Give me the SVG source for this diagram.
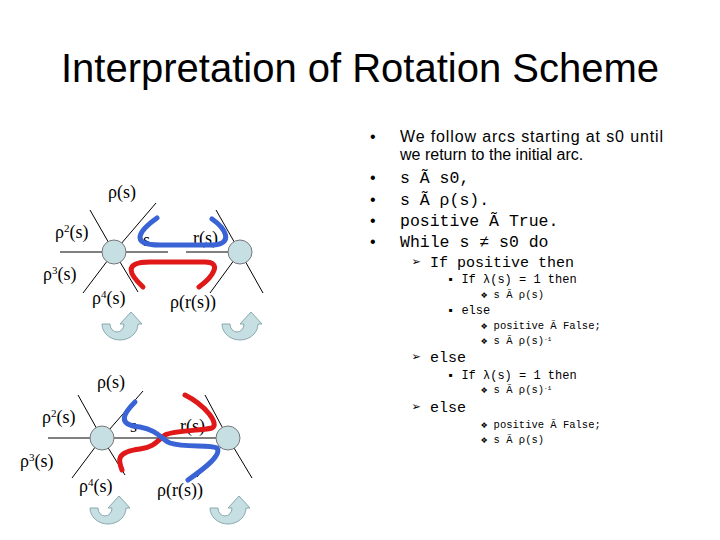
<svg xmlns="http://www.w3.org/2000/svg" width="720" height="540" viewBox="0 0 720 540">
<style>
.ln{stroke:#000;stroke-width:1;fill:none}
.nd{fill:#c5dfe3;stroke:#777;stroke-width:1}
.lb{font-size:18px;fill:#000}
.sup{font-size:11px}
.blue{stroke:#3a63d6;stroke-width:5;fill:none;stroke-linecap:round}
.red{stroke:#e01818;stroke-width:5;fill:none;stroke-linecap:round}
.sans{font-size:16px}
.mono{fill:#000}
</style>
<defs>
<path id="rot" d="M0,12 L8,12 A7,8 0 0 0 22,12 L18,12 L29,0 L40,12 L36,12 A18,16 0 0 1 0,12 Z" fill="#c5dfe3" stroke="#8aa9ae" stroke-width="1"/>
</defs>
<rect width="720" height="540" fill="#fff"/>
<text x="360" y="82" text-anchor="middle" font-family="Liberation Sans, sans-serif" font-size="40">Interpretation of Rotation Scheme</text>

<g id="top-diagram" font-family="Liberation Serif, serif">
<g class="ln">
<line x1="60" y1="252" x2="168" y2="252"/><line x1="186" y1="252" x2="240" y2="252"/>
<line x1="114" y1="252" x2="90" y2="210"/><line x1="114" y1="252" x2="156" y2="203"/>
<line x1="114" y1="252" x2="83" y2="293"/><line x1="114" y1="252" x2="138" y2="292"/>
<line x1="240" y1="252" x2="216" y2="210"/><line x1="240" y1="252" x2="210" y2="293"/><line x1="240" y1="252" x2="263" y2="293"/>
</g>
<circle id="n1" class="nd" cx="114" cy="252" r="12"/>
<circle id="n2" class="nd" cx="240" cy="252" r="12"/>
<text class="lb" x="108" y="198">ρ(s)</text>
<text class="lb" x="55" y="238">ρ<tspan class="sup" dy="-6">2</tspan><tspan dy="6">(s)</tspan></text>
<text class="lb" x="143" y="246">s</text>
<text class="lb" x="193" y="244">r(s)</text>
<text class="lb" x="43" y="280">ρ<tspan class="sup" dy="-6">3</tspan><tspan dy="6">(s)</tspan></text>
<text class="lb" x="92" y="304">ρ<tspan class="sup" dy="-6">4</tspan><tspan dy="6">(s)</tspan></text>
<text class="lb" x="170" y="308">ρ(r(s))</text>
<path class="blue" d="M157,218 C140,230 128,245 160,245 L212,245 C235,244 225,228 212,219"/>
<path class="red" d="M143,287 C130,275 122,262 150,262 L205,262 C222,262 214,276 199,287"/>
<use href="#rot" x="102" y="312"/>
<use href="#rot" x="222" y="312"/>
</g>

<g id="bottom-diagram" font-family="Liberation Serif, serif">
<g class="ln">
<line x1="48" y1="438" x2="228" y2="438"/>
<line x1="102" y1="438" x2="78" y2="395"/><line x1="102" y1="438" x2="143" y2="391"/>
<line x1="102" y1="438" x2="72" y2="478"/><line x1="102" y1="438" x2="125" y2="475"/>
<line x1="228" y1="438" x2="205" y2="395"/><line x1="228" y1="438" x2="197" y2="477"/><line x1="228" y1="438" x2="252" y2="478"/>
</g>
<circle id="n3" class="nd" cx="102" cy="438" r="12"/>
<circle id="n4" class="nd" cx="228" cy="438" r="12"/>
<text class="lb" x="97" y="388">ρ(s)</text>
<text class="lb" x="42" y="423">ρ<tspan class="sup" dy="-6">2</tspan><tspan dy="6">(s)</tspan></text>
<text class="lb" x="130" y="432">s</text>
<text class="lb" x="180" y="432">r(s)</text>
<text class="lb" x="20" y="467">ρ<tspan class="sup" dy="-6">3</tspan><tspan dy="6">(s)</tspan></text>
<text class="lb" x="79" y="492">ρ<tspan class="sup" dy="-6">4</tspan><tspan dy="6">(s)</tspan></text>
<text class="lb" x="157" y="496">ρ(r(s))</text>
<path class="red" d="M122,470 C118,460 116,452 140,449 C155,447 158,440 165,435 C175,430 200,431 212,428 C220,424 205,405 185,395"/>
<path class="blue" d="M135,402 C125,412 115,425 140,427 C158,430 162,440 170,443 C185,448 210,444 217,448 C222,455 205,468 188,480"/>
<use href="#rot" x="90" y="496"/>
<use href="#rot" x="210" y="496"/>
</g>

<g id="text-panel">
<g class="sans" font-family="Liberation Sans, sans-serif">
<text x="370" y="142">•</text><text x="400" y="142" textLength="263">We follow arcs starting at s0 until</text>
<text x="400" y="160">we return to the initial arc.</text>
<text x="370" y="183">•</text><text x="370" y="205">•</text><text x="370" y="226">•</text><text x="370" y="247">•</text>
</g>
<g class="mono" font-size="16.5" font-family="Liberation Mono, monospace">
<text x="400" y="183">s Ã s0,</text>
<text x="400" y="205">s Ã ρ(s).</text>
<text x="400" y="226">positive Ã True.</text>
<text x="400" y="247">While s ≠ s0 do</text>
</g>
<g class="mono" font-size="15" font-family="Liberation Mono, monospace">
<text x="412" y="267">➢ If positive then</text>
<text x="412" y="362">➢ else</text>
<text x="412" y="412">➢ else</text>
</g>
<g class="mono" font-size="12" font-family="Liberation Mono, monospace">
<text x="447" y="283">▪ If λ(s) = 1 then</text>
<text x="447" y="314">▪ else</text>
<text x="447" y="379">▪ If λ(s) = 1 then</text>
</g>
<g class="mono" font-size="10.5" font-family="Liberation Mono, monospace">
<text x="481" y="298">❖ s Ã ρ(s)</text>
<text x="481" y="329">❖ positive Ã False;</text>
<text x="481" y="344">❖ s Ã ρ(s)<tspan font-size="6" dy="-3">-1</tspan></text>
<text x="481" y="393">❖ s Ã ρ(s)<tspan font-size="6" dy="-3">-1</tspan></text>
<text x="481" y="428">❖ positive Ã False;</text>
<text x="481" y="443">❖ s Ã ρ(s)</text>
</g>
</g>
</svg>
